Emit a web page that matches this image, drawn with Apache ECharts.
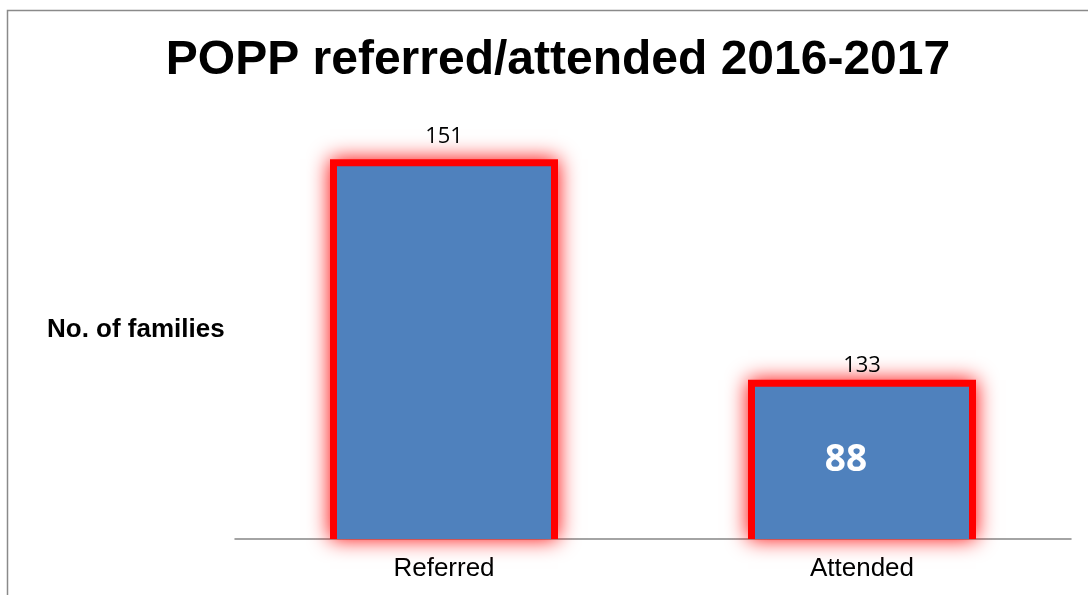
<!DOCTYPE html>
<html>
<head>
<meta charset="utf-8">
<script src="https://cdn.jsdelivr.net/npm/echarts@6/dist/echarts.min.js"></script>
<style>
	html, body { margin: 0; padding: 0; background: #fff; }
	#main { width: 1088px; height: 595px; }
</style>
</head>
<body>
<div id="main"></div>
<script>
// 数据
const categories = ['Referred', 'Attended'];
const barValues = [151, 133];
const innerLabels = ['', '88'];
const topLabelGap = [12, 3];

const chart = echarts.init(document.getElementById('main'));

chart.setOption({
	animation: false,
	title: [{
		text: 'POPP referred/attended 2016-2017',
		left: 553,
		top: 32,
		textAlign: 'center',
		textStyle: { fontFamily: 'Liberation Sans, Arial', fontSize: 48, fontWeight: 'bold', color: '#000' }
	}, {
		text: 'No. of families',
		left: 42,
		top: 312,
		textStyle: { fontFamily: 'Liberation Sans, Arial', fontSize: 26, fontWeight: 'bold', color: '#000' }
	}],
	graphic: [{
		type: 'rect',
		shape: { x: 7.5, y: 10.5, width: 1200, height: 700 },
		style: { fill: 'none', stroke: '#8a8a8a', lineWidth: 1.5 },
		silent: true
	}],
	grid: { left: 235, right: 17, top: 49, bottom: 56 },
	xAxis: {
		type: 'category',
		data: categories,
		axisLine: { lineStyle: { color: '#868686', width: 1.5 } },
		axisTick: { show: false },
		axisLabel: { fontFamily: 'Liberation Sans, Arial', fontSize: 26, color: '#000', margin: 17 }
	},
	yAxis: {
		type: 'value',
		min: 120,
		max: 160,
		show: false,
		splitLine: { show: false }
	},
	series: [{
		// 红色发光边框
		type: 'bar',
		barWidth: 228,
		data: barValues.map((v, i) => ({
			value: v,
			label: { distance: topLabelGap[i] }
		})),
		itemStyle: {
			color: '#ff0000',
			shadowBlur: 20,
			shadowColor: 'rgba(255,0,0,1)'
		},
		label: {
			show: true,
			position: 'top',
			fontFamily: 'Open Sans, Noto Sans',
			fontSize: 22,
			color: '#000'
		}
	}, {
		// 蓝色柱体 + 内部白色标签
		type: 'bar',
		barWidth: 228,
		barGap: '-100%',
		z: 5,
		data: barValues,
		itemStyle: {
			color: '#4f81bd',
			borderColor: 'transparent',
			borderWidth: 14
		},
		label: {
			show: true,
			position: 'inside',
			offset: [-16, -2],
			formatter: p => innerLabels[p.dataIndex],
			fontFamily: 'Open Sans, Noto Sans',
			fontSize: 37,
			fontWeight: 'bold',
			color: '#fff'
		}
	}]
});
</script>
</body>
</html>
